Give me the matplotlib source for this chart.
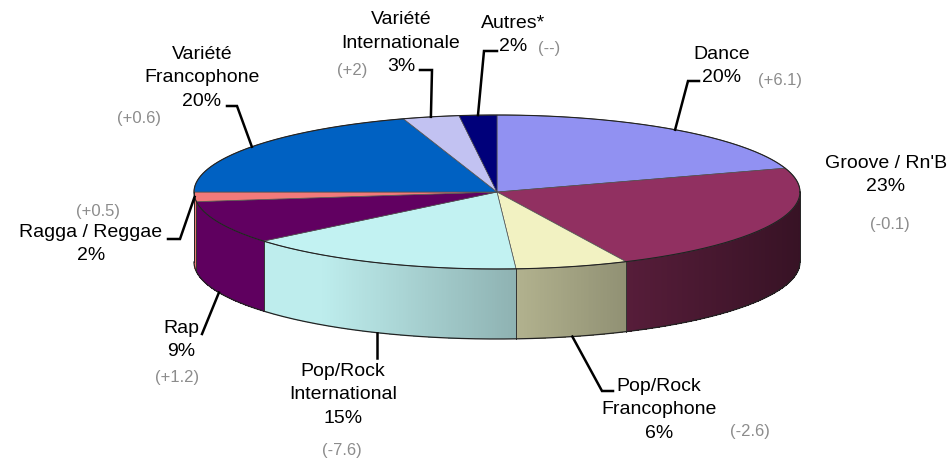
import numpy as np
import matplotlib.pyplot as plt
from matplotlib.patches import Polygon
from matplotlib.collections import PolyCollection

# parts de marché par genre (%), sens horaire depuis le haut
genres = ["Dance", "Groove / Rn'B", "Pop/Rock\nFrancophone", "Pop/Rock\nInternational",
          "Rap", "Ragga / Reggae", "Variété\nFrancophone", "Variété\nInternationale", "Autres*"]
shares = [20, 23, 6, 15, 9, 2, 20, 3, 2]
changes = ["(+6.1)", "(-0.1)", "(-2.6)", "(-7.6)", "(+1.2)", "(+0.5)", "(+0.6)", "(+2)", "(--)"]
colors = ["#9999FF", "#993366", "#FFFFCC", "#CCFFFF", "#660066",
          "#FF8080", "#0066CC", "#CCCCFF", "#000080"]

# mise en page (pixels)
label_pos = [(722, 66), (886, 175), (659, 410), (343, 395), (181, 340),
             (91, 244), (202, 78), (401, 43), (513, 35)]
change_pos = [(780, 80), (890, 225), (750, 432), (342, 451), (177, 378),
              (98, 212), (139, 119), (352, 70), (549, 49)]
leader_pts = [[(699, 82), (688, 82)], None, [(613, 392), (602, 392)], [(368, 359)],
              [(202, 335)], [(168, 240), (180, 240)], [(227, 107), (237, 107)],
              [(420, 71), (432, 71)], [(497, 52), (484, 52)]]
line_step = 23.5

cx, cy, a, b, depth = 497, 193, 303, 77, 70

plt.rcParams['font.family'] = ['Liberation Sans', 'DejaVu Sans']

fig = plt.figure(figsize=(9.53, 4.6), dpi=100)
ax = fig.add_axes([0, 0, 1, 1])
ax.set_xlim(0, 953)
ax.set_ylim(460, 0)
ax.axis('off')


def rim(t, down=0):
    t = np.radians(t)
    return cx + a * np.cos(t), cy - b * np.sin(t) + down


def shade(hex_color, f):
    c = np.array([int(hex_color[i:i + 2], 16) for i in (1, 3, 5)]) / 255.0
    return tuple(np.clip(c * f, 0, 1))


total = float(sum(shares))
cum = np.concatenate([[0], np.cumsum(shares)]) / total
t_start = 90 - 360 * cum[:-1]
t_end = 90 - 360 * cum[1:]

# faces latérales (partie avant)
for i in range(len(shares)):
    lo, hi = max(t_end[i], -180), min(t_start[i], 0)
    if hi <= lo:
        continue
    ts = np.linspace(hi, lo, max(int((hi - lo) * 3), 2))
    quads, fcs = [], []
    for k in range(len(ts) - 1):
        x0, y0 = rim(ts[k])
        x1, y1 = rim(ts[k + 1])
        quads.append([(x0, y0), (x1, y1), (x1, y1 + depth), (x0, y0 + depth)])
        u = ((x0 + x1) / 2 - cx) / a
        f = np.clip(0.72 - 0.36 * u, 0.34, 0.93)
        fcs.append(shade(colors[i], f))
    ax.add_collection(PolyCollection(quads, facecolors=fcs, edgecolors='none',
                                     linewidths=0, antialiased=False))
    for t in (hi, lo):
        if -180 < t < 0:
            x0, y0 = rim(t)
            ax.plot([x0, x0], [y0, y0 + depth], color='#333333', lw=0.6)

# contour bas et bords
tb = np.linspace(0, -180, 200)
xb, yb = rim(tb, depth)
ax.plot(xb, yb, color='#222222', lw=0.9)
for t in (0, 180):
    x0, y0 = rim(t)
    ax.plot([x0, x0], [y0, y0 + depth], color='#222222', lw=0.7)

# faces supérieures
for i in range(len(shares)):
    ts = np.linspace(t_start[i], t_end[i], max(int(abs(t_start[i] - t_end[i]) * 2), 3))
    xs, ys = rim(ts)
    pts = [(cx, cy)] + list(zip(xs, ys))
    ax.add_patch(Polygon(pts, closed=True, facecolor=shade(colors[i], 0.95),
                         edgecolor='#505050', lw=0.5))
tt = np.linspace(0, 360, 400)
xt, yt = rim(tt)
ax.plot(xt, yt, color='#222222', lw=0.8)

# étiquettes
for i in range(len(shares)):
    lx, ly = label_pos[i]
    lines = genres[i].split("\n") + ["%d%%" % shares[i]]
    y0 = ly - line_step * (len(lines) - 1) / 2
    for k, s in enumerate(lines):
        ax.text(lx, y0 + k * line_step, s, ha='center', va='center',
                fontsize=14, color='black')
    ax.text(change_pos[i][0], change_pos[i][1], changes[i], ha='center', va='center',
            fontsize=12, color='#8C8C8C')
    if leader_pts[i] is None:
        continue
    tm = (t_start[i] + t_end[i]) / 2
    if np.sin(np.radians(tm)) < -0.3:
        ex, ey = rim(tm, depth)
    else:
        ex, ey = rim(tm)
    path = leader_pts[i] + [(ex, ey)]
    if i == 3:
        path = [(ex, leader_pts[i][0][1]), (ex, ey)]
    px, py = zip(*path)
    ax.plot(px, py, color='black', lw=1.8, solid_joinstyle='miter')

fig.savefig('out.png', dpi=100)
